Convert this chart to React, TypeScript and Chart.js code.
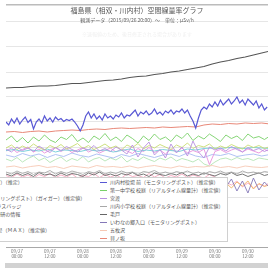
import React, { useEffect, useRef } from "react";
import { Chart, registerables } from "chart.js";

Chart.register(...registerables);

const TITLE = "福島県（相双・川内村）空間線量率グラフ";
const SUBTITLE = "観測データ（2015/09/26 20:00）〜　単位：μSv/h";
const NOTE = "※速報値のため、後日修正される場合があります";

// x axis ticks (hours from start)
const tickHours = [4, 16, 28, 40, 52, 64, 76, 88];
const tickDates = ["09/27", "09/27", "09/28", "09/28", "09/29", "09/29", "09/30", "09/30"];
const tickTimes = ["00:00", "12:00", "00:00", "12:00", "00:00", "12:00", "00:00", "12:00"];
const X_MAX = 95.3;

// y grid (μSv/h)
const yGridValues = [0, 0.05, 0.1, 0.15, 0.2, 0.25, 0.3, 0.35, 0.4, 0.45];
const Y_MAX = 0.484;

// Series names (left legend column, then right column)
const leftNames = [
  "富岡町 夜の森 小学校（モニタリング）（推定）",
  "葛尾村役場",
  "大熊町 大野 中央公民館（大型モニタリングポスト）（ガイガー）（推定値）",
  "南相馬市 小高区 浪江町境 第３号ガラスバッジ",
  "双葉郡楢葉町 天神岬スポーツ公園 理研の情報",
  "飯舘村役場",
  "浪江町 津島 活性化センター 屋外 １号（ＭＡＸ）（推定値）",
  "広野町役場",
];
const rightNames = [
  "川内村役場 前（モニタリングポスト）（推定値）",
  "第一中学校 校庭（リアルタイム線量計）（推定値）",
  "宮渡",
  "川内小学校 校庭（リアルタイム線量計）（推定値）",
  "毛戸",
  "いわなの郷入口（モニタリングポスト）",
  "五枚沢",
  "貝ノ坂",
];

// sampling step (hours) of each series
const leftSteps = [3, 2, 3, 2, 2, 3, 2, 2];
const rightSteps = [1, 2, 2, 2, 2, 2, 3, 3];

// ---- values (μSv/h) ----
const tomiokaValues = [
  0.318, 0.319, 0.319, 0.321, 0.322, 0.322, 0.323, 0.325, 0.327, 0.327,
  0.329, 0.331, 0.333, 0.334, 0.336, 0.339, 0.341, 0.342, 0.345, 0.347,
  0.35, 0.352, 0.355, 0.358, 0.361, 0.366, 0.37, 0.373, 0.377, 0.38,
  0.384, 0.388, 0.392,
];
const katsuraoValues = [
  0.198, 0.204, 0.195, 0.202, 0.197, 0.206, 0.199, 0.194, 0.203, 0.198,
  0.205, 0.196, 0.201, 0.207, 0.197, 0.203, 0.195, 0.2, 0.206, 0.198,
  0.202, 0.194, 0.204, 0.199, 0.207, 0.196, 0.203, 0.198, 0.205, 0.2,
  0.195, 0.204, 0.199, 0.208, 0.197, 0.203, 0.2, 0.206, 0.196, 0.202,
  0.198, 0.205, 0.2, 0.196, 0.204, 0.199, 0.203, 0.197, 0.201,
];
const okumaValues = [
  0.193, 0.195, 0.191, 0.194, 0.192, 0.196, 0.19, 0.194, 0.193, 0.191,
  0.195, 0.192, 0.194, 0.19, 0.193, 0.196, 0.191, 0.194, 0.192, 0.195,
  0.193, 0.191, 0.196, 0.194, 0.197, 0.198, 0.197, 0.199, 0.198, 0.197,
  0.199, 0.198, 0.197,
];
const odakaValues = [
  0.192, 0.198, 0.189, 0.195, 0.2, 0.19, 0.196, 0.188, 0.194, 0.199,
  0.191, 0.197, 0.189, 0.194, 0.199, 0.19, 0.195, 0.188, 0.193, 0.198,
  0.19, 0.196, 0.192, 0.187, 0.197, 0.191, 0.199, 0.189, 0.194, 0.186,
  0.196, 0.19, 0.198, 0.188, 0.193, 0.189, 0.196, 0.165, 0.191, 0.195,
  0.189, 0.194, 0.198, 0.19, 0.196, 0.192, 0.188, 0.195, 0.191,
];
const narahaValues = [
  0.122, 0.126, 0.119, 0.124, 0.128, 0.12, 0.125, 0.121, 0.127, 0.123,
  0.119, 0.125, 0.122, 0.128, 0.12, 0.124, 0.126, 0.121, 0.127, 0.123,
  0.12, 0.126, 0.122, 0.125, 0.119, 0.127, 0.123, 0.121, 0.126, 0.124,
  0.12, 0.125, 0.122, 0.128, 0.121, 0.124, 0.127, 0.12, 0.125, 0.122,
  0.128, 0.118, 0.13, 0.122, 0.132, 0.116, 0.127, 0.121, 0.125,
];
const iitateValues = [
  0.184, 0.18, 0.187, 0.182, 0.186, 0.179, 0.185, 0.181, 0.188, 0.183,
  0.18, 0.186, 0.182, 0.178, 0.185, 0.181, 0.187, 0.183, 0.179, 0.184,
  0.186, 0.181, 0.188, 0.182, 0.179, 0.185, 0.183, 0.187, 0.181, 0.184,
  0.186, 0.182, 0.185,
];
const tsushimaValues = [
  0.176, 0.172, 0.179, 0.17, 0.177, 0.182, 0.173, 0.178, 0.169, 0.175,
  0.18, 0.171, 0.177, 0.173, 0.181, 0.17, 0.176, 0.179, 0.172, 0.178,
  0.174, 0.181, 0.17, 0.177, 0.173, 0.18, 0.175, 0.171, 0.178, 0.174,
  0.18, 0.172, 0.177, 0.174, 0.17, 0.176, 0.166, 0.162, 0.17, 0.176,
  0.178, 0.174, 0.179, 0.175, 0.177, 0.173, 0.178, 0.176, 0.174,
];
const hironoValues = [
  0.143, 0.139, 0.146, 0.14, 0.144, 0.138, 0.145, 0.141, 0.147, 0.139,
  0.144, 0.14, 0.146, 0.138, 0.143, 0.141, 0.147, 0.139, 0.145, 0.14,
  0.144, 0.138, 0.146, 0.141, 0.143, 0.139, 0.147, 0.14, 0.145, 0.138,
  0.143, 0.14, 0.146, 0.139, 0.144, 0.141, 0.138, 0.145, 0.14, 0.136,
  0.13, 0.124, 0.132, 0.12, 0.128, 0.118, 0.126, 0.122, 0.129,
];
const yakubaValues = [
  0.25, 0.244, 0.256, 0.248, 0.258, 0.246, 0.254, 0.26, 0.249, 0.255,
  0.236, 0.25, 0.256, 0.248, 0.262, 0.252, 0.258, 0.25, 0.26, 0.254,
  0.257, 0.251, 0.255, 0.253, 0.256, 0.25, 0.242, 0.232, 0.244, 0.262,
  0.27, 0.258, 0.266, 0.256, 0.262, 0.254, 0.266, 0.258, 0.262, 0.256,
  0.264, 0.26, 0.268, 0.258, 0.264, 0.262, 0.268, 0.274, 0.262, 0.27,
  0.266, 0.272, 0.264, 0.268, 0.276, 0.266, 0.27, 0.264, 0.272, 0.268,
  0.274, 0.266, 0.272, 0.27, 0.276, 0.268, 0.274, 0.262, 0.252, 0.238,
  0.258, 0.274, 0.28, 0.276, 0.286, 0.28, 0.29, 0.282, 0.294, 0.284,
  0.29, 0.296, 0.286, 0.292, 0.3, 0.288, 0.294, 0.284, 0.296, 0.29,
  0.284, 0.292, 0.278, 0.286, 0.274, 0.28,
];
const chugakuValues = [
  0.214, 0.222, 0.21, 0.219, 0.208, 0.22, 0.212, 0.224, 0.214, 0.209,
  0.22, 0.215, 0.225, 0.211, 0.218, 0.209, 0.222, 0.215, 0.227, 0.213,
  0.22, 0.211, 0.224, 0.217, 0.208, 0.222, 0.213, 0.226, 0.215, 0.22,
  0.211, 0.224, 0.217, 0.228, 0.213, 0.222, 0.216, 0.226, 0.219, 0.211,
  0.224, 0.217, 0.222, 0.213, 0.226, 0.218, 0.221, 0.215, 0.222,
];
const miyawatariValues = [
  0.196, 0.19, 0.2, 0.193, 0.198, 0.191, 0.202, 0.195, 0.189, 0.199,
  0.193, 0.201, 0.195, 0.19, 0.198, 0.194, 0.203, 0.192, 0.197, 0.191,
  0.2, 0.194, 0.186, 0.204, 0.18, 0.198, 0.21, 0.184, 0.195, 0.178,
  0.206, 0.188, 0.2, 0.182, 0.212, 0.19, 0.178, 0.2, 0.194, 0.198,
  0.192, 0.201, 0.195, 0.19, 0.199, 0.193, 0.197, 0.191, 0.196,
];
const shogakuValues = [
  0.15, 0.146, 0.152, 0.147, 0.151, 0.145, 0.15, 0.148, 0.153, 0.146,
  0.151, 0.147, 0.152, 0.149, 0.145, 0.151, 0.148, 0.153, 0.146, 0.15,
  0.147, 0.152, 0.148, 0.15, 0.145, 0.151, 0.149, 0.153, 0.147, 0.15,
  0.146, 0.151, 0.148, 0.152, 0.147, 0.15, 0.145, 0.151, 0.148, 0.152,
  0.147, 0.15, 0.146, 0.152, 0.148, 0.15, 0.147, 0.151, 0.149,
];
const kedoValues = [
  0.146, 0.142, 0.148, 0.143, 0.147, 0.141, 0.149, 0.144, 0.146, 0.142,
  0.148, 0.143, 0.147, 0.145, 0.141, 0.148, 0.144, 0.15, 0.143, 0.146,
  0.142, 0.147, 0.144, 0.149, 0.143, 0.146, 0.141, 0.148, 0.145, 0.143,
  0.147, 0.144, 0.149, 0.142, 0.146, 0.143, 0.148, 0.145, 0.142, 0.147,
  0.144, 0.149, 0.143, 0.146, 0.141, 0.145, 0.148, 0.143, 0.146,
];
const iwananoValues = [
  0.124, 0.12, 0.128, 0.118, 0.126, 0.121, 0.129, 0.117, 0.125, 0.122,
  0.127, 0.119, 0.124, 0.13, 0.118, 0.125, 0.121, 0.128, 0.116, 0.123,
  0.126, 0.12, 0.129, 0.122, 0.118, 0.127, 0.121, 0.125, 0.119, 0.128,
  0.122, 0.126, 0.118, 0.124, 0.129, 0.12, 0.125, 0.117, 0.123, 0.127,
  0.12, 0.136, 0.112, 0.132, 0.108, 0.138, 0.114, 0.13, 0.118,
];
const gomaisawaValues = [
  0.16, 0.162, 0.158, 0.161, 0.163, 0.159, 0.161, 0.157, 0.162, 0.16,
  0.158, 0.163, 0.16, 0.161, 0.159, 0.162, 0.158, 0.161, 0.163, 0.16,
  0.158, 0.162, 0.159, 0.161, 0.16, 0.163, 0.159, 0.161, 0.158, 0.162,
  0.16, 0.159, 0.161,
];
const kainosakaValues = [
  0.23, 0.231, 0.229, 0.231, 0.232, 0.23, 0.232, 0.233, 0.234, 0.233,
  0.235, 0.236, 0.235, 0.237, 0.238, 0.237, 0.238, 0.239, 0.238, 0.24,
  0.239, 0.24, 0.241, 0.24, 0.244, 0.246, 0.245, 0.247, 0.246, 0.248,
  0.247, 0.248, 0.246,
];

const leftValues = [tomiokaValues, katsuraoValues, okumaValues, odakaValues, narahaValues, iitateValues, tsushimaValues, hironoValues];
const rightValues = [yakubaValues, chugakuValues, miyawatariValues, shogakuValues, kedoValues, iwananoValues, gomaisawaValues, kainosakaValues];

// styles
const leftColors = ["#555555", "#c8dc70", "#70ccd8", "#e890dc", "#f2b060", "#a8bcf2", "#b4e4b4", "#f8a8c0"];
const rightColors = ["#5858d4", "#78d068", "#b890e0", "#a8a8a8", "#666666", "#8478b8", "#f6c8b4", "#e88878"];
const rightWidths = [1.2, 0.9, 0.9, 0.9, 0.9, 0.9, 0.9, 1];
const leftWidths = [1.1, 0.9, 0.9, 0.9, 0.9, 0.9, 0.9, 0.9];

const FONT = '"Noto Sans CJK JP", "Noto Sans", sans-serif';

export default function App() {
  const ref = useRef<HTMLCanvasElement | null>(null);

  useEffect(() => {
    const canvas = ref.current;
    if (!canvas) return;
    const mk = (names: string[], vals: number[][], steps: number[], colors: string[], widths: number[]) =>
      names.map((n, i) => ({
        label: n,
        data: vals[i].map((v, k) => ({ x: k * steps[i], y: v })),
        borderColor: colors[i],
        backgroundColor: colors[i],
        borderWidth: widths[i],
        pointRadius: 0,
        tension: 0,
        fill: false,
      }));
    const datasets = [
      ...mk(rightNames, rightValues, rightSteps, rightColors, rightWidths),
      ...mk(leftNames, leftValues, leftSteps, leftColors, leftWidths),
    ];
    const chart = new Chart(canvas, {
      type: "line",
      data: { datasets },
      options: {
        animation: false,
        responsive: false,
        devicePixelRatio: 1,
        layout: { padding: { left: 6, right: 0, top: 5, bottom: 0 } },
        plugins: { legend: { display: false }, title: { display: false }, tooltip: { enabled: false } },
        scales: {
          x: {
            type: "linear",
            min: 0,
            max: X_MAX,
            grid: { display: false, drawTicks: false },
            border: { display: true, color: "#a8a8a8", dash: [2, 2] },
            afterBuildTicks: (s: any) => {
              s.ticks = tickHours.map((v) => ({ value: v }));
            },
            afterFit: (s: any) => {
              s.height = 15;
            },
            ticks: {
              autoSkip: false,
              maxRotation: 0,
              padding: 2,
              color: "#777",
              font: { size: 4.5, family: FONT, lineHeight: 1.1 },
              callback: (v: any) => {
                const i = tickHours.indexOf(Number(v));
                return i >= 0 ? [tickDates[i], tickTimes[i]] : null;
              },
            },
          },
          y: {
            min: 0,
            max: Y_MAX,
            ticks: { display: false },
            border: { display: false },
            grid: {
              drawTicks: false,
              color: (ctx: any) => (ctx.tick && ctx.tick.value === Y_MAX ? "#bcbcbc" : "#e6e6e6"),
              lineWidth: (ctx: any) => (ctx.tick && ctx.tick.value === Y_MAX ? 1.5 : 1),
            },
            afterBuildTicks: (s: any) => {
              s.ticks = [...yGridValues, Y_MAX].map((v) => ({ value: v }));
            },
            afterFit: (s: any) => {
              s.width = 0;
            },
          },
        },
      } as any,
    });
    return () => chart.destroy();
  }, []);

  const colLeft = [7, 199];
  const rowH = 8;
  const legendCols = [
    { names: leftNames, colors: leftColors },
    { names: rightNames, colors: rightColors },
  ];

  return (
    <div
      style={{
        position: "fixed",
        left: 0,
        top: 0,
        width: 268,
        height: 269,
        overflow: "hidden",
        background: "#fff",
        fontFamily: FONT,
      }}
    >
      <canvas ref={ref} width={268} height={262} style={{ position: "absolute", left: 0, top: 0, width: 268, height: 262 }} />
      <div
        style={{
          position: "absolute",
          left: 6,
          width: 262,
          top: 5.5,
          textAlign: "center",
          fontSize: 7,
          lineHeight: "9px",
          color: "#555",
          whiteSpace: "nowrap",
        }}
      >
        {TITLE}
      </div>
      <div
        style={{
          position: "absolute",
          left: 6,
          width: 262,
          top: 15.5,
          textAlign: "center",
          fontSize: 5,
          lineHeight: "7px",
          color: "#666",
          whiteSpace: "nowrap",
        }}
      >
        {SUBTITLE}
      </div>
      <div
        style={{
          position: "absolute",
          left: 6,
          width: 262,
          top: 29.5,
          textAlign: "center",
          fontSize: 5,
          lineHeight: "7px",
          color: "#efefef",
          whiteSpace: "nowrap",
        }}
      >
        {NOTE}
      </div>
      <div
        style={{
          position: "absolute",
          left: -100,
          top: 177,
          width: 328,
          height: 65,
          boxSizing: "border-box",
          border: "1px solid #d0d0d0",
          background: "#fff",
        }}
      >
        {legendCols.map((col, c) =>
          col.names.map((n, r) => (
            <React.Fragment key={c + "-" + r}>
              <div
                style={{
                  position: "absolute",
                  left: colLeft[c],
                  top: r * rowH + 3.5,
                  width: 7,
                  height: 1.2,
                  background: col.colors[r],
                }}
              />
              <div
                style={{
                  position: "absolute",
                  left: colLeft[c] + 10,
                  top: r * rowH,
                  fontSize: 5,
                  lineHeight: rowH + "px",
                  color: "#555",
                  whiteSpace: "nowrap",
                }}
              >
                {n}
              </div>
            </React.Fragment>
          ))
        )}
      </div>
      <div style={{ position: "absolute", left: 5, top: 263, width: 263, height: 5, background: "#d2d2d2" }} />
    </div>
  );
}
